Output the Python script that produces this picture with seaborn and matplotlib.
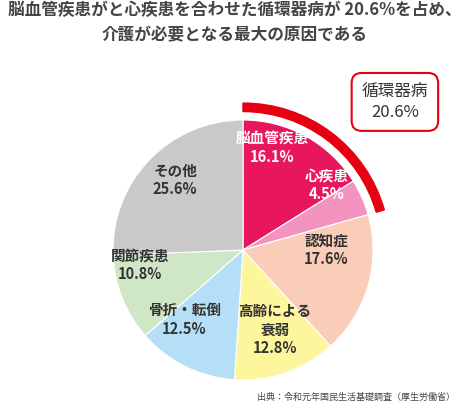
import matplotlib
matplotlib.use("Agg")
import matplotlib.pyplot as plt
import seaborn as sns
import numpy as np
from matplotlib.patches import Wedge

sns.set_theme(style="white")
plt.rcParams['font.family'] = ['Noto Sans CJK JP', 'DejaVu Sans']

labels = ["脳血管疾患", "心疾患", "認知症", "高齢による\n衰弱", "骨折・転倒", "関節疾患", "その他"]
values = [16.1, 4.5, 17.6, 12.8, 12.5, 10.8, 25.6]
colors = ["#E8175D", "#F394C0", "#F9CDB8", "#FDF69C", "#B5DFF6", "#CFE7C6", "#C9C9C9"]
txtcol = ["white", "white", "#333333", "#333333", "#333333", "#333333", "#333333"]
# label placement (angle in degrees, radius as fraction of pie radius)
label_ang = [74, 38, 0, -68, -130, -172, 134]
label_r = [0.82, 0.82, 0.64, 0.66, 0.70, 0.80, 0.75]
group_label = "循環器病"
group_value = 20.6

fig = plt.figure(figsize=(4.69, 4.16), dpi=100)
fig.patch.set_facecolor("white")
R = 130
ax = fig.add_axes([(243-1.2*R)/469, (166-1.2*R)/416, 2.4*R/469, 2.4*R/416])
ax.pie(values, colors=colors, startangle=90, counterclock=False, radius=1.0,
       wedgeprops=dict(linewidth=0.8, edgecolor="white"))
ax.set_xlim(-1.2, 1.2); ax.set_ylim(-1.2, 1.2); ax.set_aspect("equal"); ax.axis("off")

for lab, v, c, a, r in zip(labels, values, txtcol, label_ang, label_r):
    t = np.deg2rad(a)
    ax.text(r*np.cos(t), r*np.sin(t), f"{lab}\n{v}%", ha="center", va="center",
            color=c, fontsize=10.5, fontweight="bold", linespacing=1.2)

ax.add_patch(Wedge((0, 0), 1.13, 90 - group_value*3.6, 90, width=0.065, color="#E60012"))

fig.text(0.842, 0.755, f"{group_label}\n{group_value}%", ha="center", va="center", fontsize=12,
         color="#333333", linespacing=1.3,
         bbox=dict(boxstyle="round,pad=0.6", fc="white", ec="#E60012", lw=1.5))

fig.text(0.5, 0.945, "脳血管疾患がと心疾患を合わせた循環器病が 20.6%を占め、\n介護が必要となる最大の原因である",
         ha="center", va="center", fontsize=12, fontweight="bold", color="#444444", linespacing=1.5)
fig.text(0.97, 0.045, "出典：令和元年国民生活基礎調査（厚生労働省）", ha="right", va="center",
         fontsize=6.5, color="#444444")
fig.savefig("out.png", dpi=100)
